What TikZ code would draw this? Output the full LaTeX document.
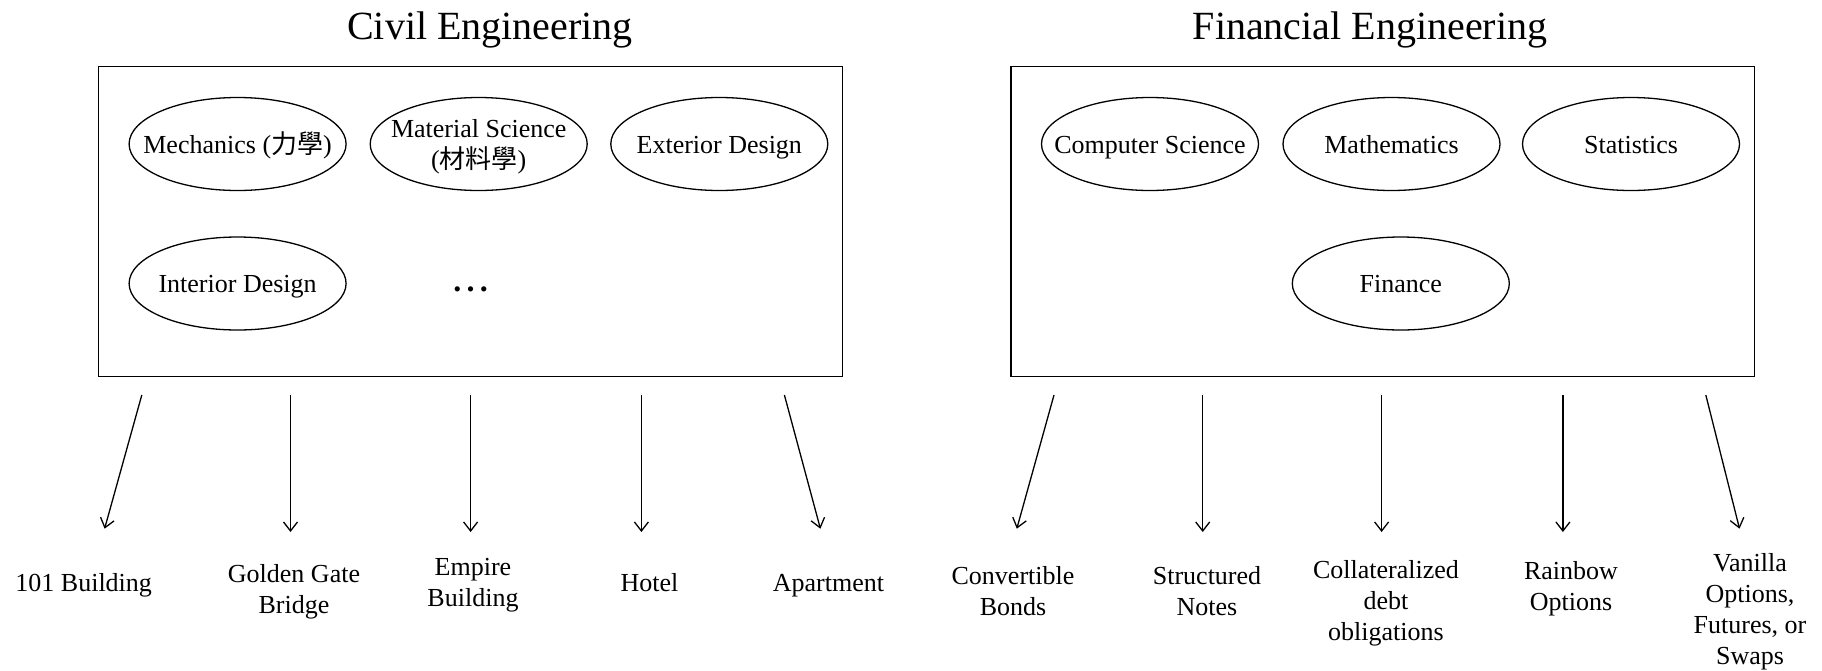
\documentclass[tikz,border=0pt]{standalone}
\usepackage{fontspec}
\setmainfont{Liberation Serif}
\newfontfamily\cjk{Noto Sans CJK TC}
\usetikzlibrary{shapes.geometric,arrows.meta}
\begin{document}
\begin{tikzpicture}[x=1pt,y=-1pt,
  every node/.style={font=\fontsize{26}{31}\selectfont},
  title/.style={font=\fontsize{40}{48}\selectfont, inner sep=0pt, yshift=-3.5pt},
  bigbox/.style={draw, line width=1.3pt, minimum width=743.6pt, minimum height=310.3pt, inner sep=0pt},
  oval/.style={ellipse, draw, line width=1.3pt, minimum width=217pt, minimum height=93pt, inner sep=0pt},
  txt/.style={align=center, inner sep=0pt, yshift=-3pt},
  lab/.style={align=center, inner sep=0pt, yshift=-3.5pt},
  one/.style={text height=0.7em, text depth=0.25em, yshift=-4pt},
  arr/.style={line width=1.3pt, -{Straight Barb[length=9pt,width=14pt,line width=1.3pt]}}
]
\useasboundingbox (0,0) rectangle (1822,670);

% titles
\node[title] (tcivil) at (490,26) {Civil Engineering};
\node[title] (tfin) at (1370,26) {Financial Engineering};

% boxes
\node[bigbox] (civil) at (470.6,221.4) {};
\node[bigbox] (fin) at (1382.8,221.4) {};

% civil ovals
\node[oval] (mech) at (237.6,144) {};
\node[txt,one] (mecht) at (mech) {Mechanics ({\cjk 力學})};
\node[oval] (mat) at (478.7,144) {};
\node[txt] (matt) at (mat) {Material Science\\({\cjk 材料學})};
\node[oval] (ext) at (719.3,144) {};
\node[txt,one] (extt) at (ext) {Exterior Design};
\node[oval] (int) at (237.6,283.5) {};
\node[txt,one] (intt) at (int) {Interior Design};
\node[inner sep=0pt, anchor=base, font=\fontsize{32}{38}\selectfont] (dots) at (470.6,291) {\textbf{.\kern5.3pt.\kern5.3pt.}};

% financial ovals
\node[oval] (cs) at (1150,144) {};
\node[txt,one] (cst) at (cs) {Computer Science};
\node[oval] (math) at (1391.5,144) {};
\node[txt,one] (matht) at (math) {Mathematics};
\node[oval] (stat) at (1631,144) {};
\node[txt,one] (statt) at (stat) {Statistics};
\node[oval] (finc) at (1400.8,283.5) {};
\node[txt,one] (finct) at (finc) {Finance};

% arrow coordinates
\coordinate (a1s) at (141.8,395);  \coordinate (a1e) at (104.6,528.7);
\coordinate (a2s) at (290.5,395);  \coordinate (a2e) at (290.5,532);
\coordinate (a3s) at (470.6,395);  \coordinate (a3e) at (470.6,532);
\coordinate (a4s) at (641.4,395);  \coordinate (a4e) at (641.4,532);
\coordinate (a5s) at (784.4,395);  \coordinate (a5e) at (820.4,528.7);
\coordinate (b1s) at (1054,395);   \coordinate (b1e) at (1016.8,528.7);
\coordinate (b2s) at (1202.7,395); \coordinate (b2e) at (1202.7,532);
\coordinate (b3s) at (1381.6,395); \coordinate (b3e) at (1381.6,532);
\coordinate (b4s) at (1562.9,395); \coordinate (b4e) at (1562.9,532);
\coordinate (b5s) at (1705.8,395); \coordinate (b5e) at (1739.5,528.7);

\foreach \n in {a1,a2,a3,a4,a5,b1,b2,b3,b4,b5}
  \draw[arr] (\n s) -- (\n e);

% labels
\node[lab,one] (l1) at (83.7,582) {101 Building};
\node[lab] (l2) at (294,588) {Golden Gate\\Bridge};
\node[lab] (l3) at (473,582) {Empire\\Building};
\node[lab,one] (l4) at (649.5,582) {Hotel};
\node[lab,one] (l5) at (828.5,582) {Apartment};
\node[lab] (r1) at (1013,588) {Convertible\\Bonds};
\node[lab] (r2) at (1207,588) {Structured\\Notes};
\node[lab] (r3) at (1386,600) {Collateralized\\debt\\obligations};
\node[lab] (r4) at (1571,585) {Rainbow\\Options};
\node[lab] (r5) at (1750,608) {Vanilla\\Options,\\Futures, or\\Swaps};
\end{tikzpicture}
\end{document}
